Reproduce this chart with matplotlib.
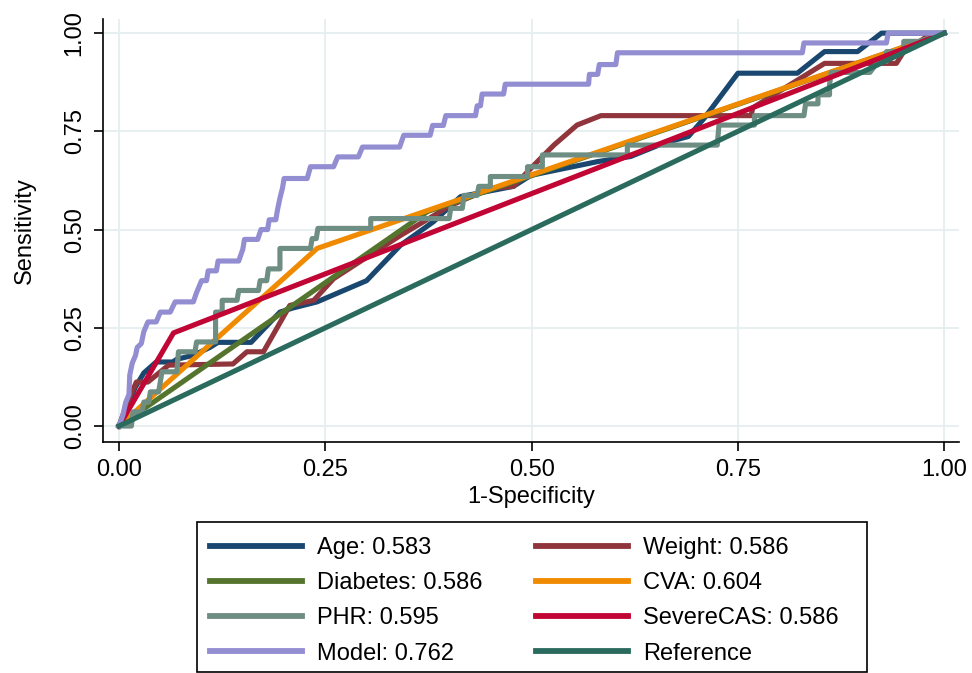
import matplotlib
matplotlib.use("Agg")
from matplotlib import pyplot as plt
from matplotlib.patches import Rectangle

plt.rcParams['font.family'] = ['Liberation Sans', 'DejaVu Sans']

# ROC curves (1-specificity, sensitivity)
age_x = [0, 0.01, 0.02, 0.03, 0.045, 0.065, 0.07, 0.09, 0.11, 0.12, 0.16, 0.195, 0.21, 0.24,
         0.30, 0.341, 0.381, 0.414, 0.478, 0.499, 0.58, 0.62, 0.66, 0.69, 0.709, 0.75, 0.822,
         0.855, 0.895, 0.924, 1]
age_y = [0, 0.05, 0.10, 0.135, 0.163, 0.163, 0.17, 0.18, 0.20, 0.213, 0.213, 0.29, 0.30, 0.316,
         0.37, 0.46, 0.52, 0.584, 0.61, 0.638, 0.673, 0.686, 0.72, 0.737, 0.783, 0.898, 0.898,
         0.953, 0.953, 1.0, 1]

weight_x = [0, 0.01, 0.021, 0.035, 0.06, 0.138, 0.155, 0.175, 0.207, 0.236, 0.26, 0.341, 0.385,
            0.398, 0.45, 0.478, 0.507, 0.527, 0.555, 0.584, 0.766, 0.768, 0.855, 0.942, 0.951,
            0.976, 1]
weight_y = [0, 0.06, 0.112, 0.112, 0.155, 0.158, 0.189, 0.189, 0.307, 0.32, 0.375, 0.485, 0.54,
            0.558, 0.605, 0.61, 0.673, 0.715, 0.766, 0.79, 0.79, 0.81, 0.923, 0.923, 0.953,
            0.987, 1]

diabetes_x = [0, 0.374, 1]
diabetes_y = [0, 0.546, 1]

cva_x = [0, 0.24, 1]
cva_y = [0, 0.452, 1]

phr_x = [0, 0.015, 0.017, 0.028, 0.03, 0.036, 0.038, 0.048, 0.05, 0.052, 0.07, 0.072, 0.092,
         0.094, 0.117, 0.117, 0.125, 0.125, 0.143, 0.145, 0.169, 0.171, 0.179, 0.181, 0.195,
         0.195, 0.232, 0.234, 0.239, 0.241, 0.305, 0.305, 0.40, 0.402, 0.416, 0.418, 0.434,
         0.436, 0.45, 0.45, 0.495, 0.495, 0.513, 0.513, 0.616, 0.616, 0.725, 0.727, 0.77, 0.77,
         0.83, 0.832, 0.847, 0.847, 0.861, 0.861, 0.863, 0.91, 0.92, 0.93, 0.93, 0.951, 0.951,
         0.97, 1]
phr_y = [0, 0, 0.036, 0.036, 0.061, 0.061, 0.087, 0.087, 0.112, 0.138, 0.138, 0.189, 0.189,
         0.214, 0.214, 0.29, 0.29, 0.32, 0.32, 0.345, 0.345, 0.37, 0.37, 0.40, 0.40,
         0.452, 0.452, 0.477, 0.477, 0.503, 0.503, 0.528, 0.528, 0.554, 0.554, 0.587, 0.587,
         0.61, 0.61, 0.635, 0.635, 0.66, 0.66, 0.69, 0.69, 0.715, 0.715, 0.766, 0.766, 0.79,
         0.79, 0.82, 0.82, 0.843, 0.843, 0.868, 0.90, 0.90, 0.928, 0.928, 0.953, 0.953, 0.979,
         0.979, 1]

severe_x = [0, 0.066, 1]
severe_y = [0, 0.237, 1]

model_x = [0, 0.005, 0.008, 0.012, 0.013, 0.016, 0.02, 0.022, 0.027, 0.03, 0.035, 0.045, 0.05,
           0.062, 0.068, 0.09, 0.094, 0.1, 0.106, 0.108, 0.118, 0.12, 0.145, 0.15, 0.152, 0.168,
           0.172, 0.18, 0.182, 0.19, 0.192, 0.195, 0.198, 0.2, 0.228, 0.232, 0.26, 0.265, 0.29,
           0.295, 0.34, 0.345, 0.377, 0.38, 0.393, 0.396, 0.432, 0.434, 0.438, 0.44, 0.466,
           0.468, 0.569, 0.57, 0.58, 0.582, 0.602, 0.604, 0.828, 0.83, 0.93, 0.932, 1]
model_y = [0, 0.03, 0.06, 0.08, 0.13, 0.16, 0.18, 0.20, 0.21, 0.24, 0.265, 0.265, 0.29, 0.29,
           0.316, 0.316, 0.34, 0.37, 0.37, 0.395, 0.395, 0.42, 0.42, 0.45, 0.475, 0.475, 0.50,
           0.50, 0.525, 0.525, 0.55, 0.58, 0.605, 0.63, 0.63, 0.66, 0.66, 0.685, 0.685, 0.71,
           0.71, 0.74, 0.74, 0.765, 0.765, 0.79, 0.79, 0.815, 0.815, 0.845, 0.845, 0.87, 0.87,
           0.895, 0.895, 0.92, 0.92, 0.95, 0.95, 0.975, 0.975, 1.0, 1]

ref_x = [0, 1]
ref_y = [0, 1]

ticks = [0, 0.25, 0.5, 0.75, 1]
tick_labels = ["0.00", "0.25", "0.50", "0.75", "1.00"]

fig = plt.figure(figsize=(9.72, 6.73), dpi=100)
ax = fig.add_axes([0.106, 0.3432, 0.8807, 0.6286])

lw = 3.7
l_age, = ax.plot(age_x, age_y, color="#1a476f", lw=lw, label="Age: 0.583")
l_wt, = ax.plot(weight_x, weight_y, color="#90353b", lw=lw, label="Weight: 0.586")
l_dm, = ax.plot(diabetes_x, diabetes_y, color="#55752f", lw=lw, label="Diabetes: 0.586")
l_cva, = ax.plot(cva_x, cva_y, color="#f08a00", lw=lw, label="CVA: 0.604")
l_phr, = ax.plot(phr_x, phr_y, color="#6e8e84", lw=lw, label="PHR: 0.595")
l_cas, = ax.plot(severe_x, severe_y, color="#c10534", lw=lw, label="SevereCAS: 0.586")
l_mod, = ax.plot(model_x, model_y, color="#938dd2", lw=lw, label="Model: 0.762")
l_ref, = ax.plot(ref_x, ref_y, color="#2a6b5e", lw=lw, label="Reference")

ax.set_xlim(-0.0194, 1.018)
ax.set_ylim(-0.0407, 1.036)
ax.set_xticks(ticks)
ax.set_xticklabels(tick_labels)
ax.set_yticks(ticks)
ax.set_yticklabels(tick_labels, rotation=90, va="center")
ax.tick_params(direction="out", length=6.5, width=1.2, labelsize=17, pad=6, colors="black")
ax.grid(True, color="#e6eef0", linewidth=1.3)
ax.set_axisbelow(True)
for s in ["top", "right"]:
    ax.spines[s].set_visible(False)
for s in ["left", "bottom"]:
    ax.spines[s].set_linewidth(1.2)

ax.set_xlabel("1-Specificity", fontsize=17, labelpad=3)
ax.set_ylabel("Sensitivity", fontsize=17, labelpad=20)

# legend box drawn on its own so the padding matches
fig.patches.append(Rectangle((197 / 972, 1 - 672 / 673), 670 / 972, 150 / 673,
                             transform=fig.transFigure, fill=False,
                             edgecolor="black", linewidth=1.2))

handles = [l_age, l_dm, l_phr, l_mod, l_wt, l_cva, l_cas, l_ref]
leg = fig.legend(handles=handles, ncol=2, loc="upper left",
                 bbox_to_anchor=(210 / 972, 1 - 537 / 673), fontsize=17,
                 frameon=False, handlelength=3.9, handletextpad=0.65,
                 columnspacing=2.25, labelspacing=0.56, borderpad=0, borderaxespad=0)
for h in leg.get_lines():
    h.set_linewidth(4.2)

plt.savefig("out.png", dpi=100)
